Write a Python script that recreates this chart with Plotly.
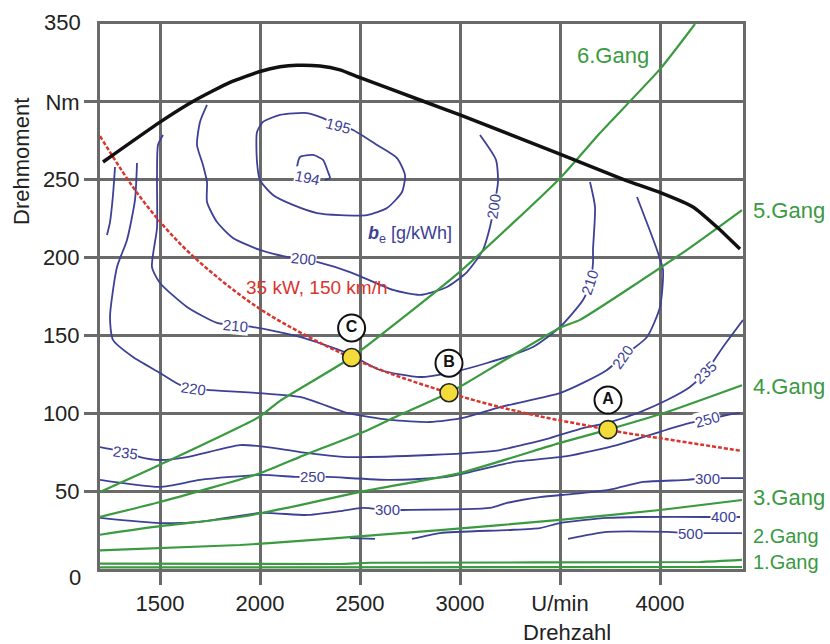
import plotly.graph_objects as go

# ---- engine speed axis / torque axis ticks ----
x_ticks = [1500, 2000, 2500, 3000, 3500, 4000]
x_ticktext = ["1500", "2000", "2500", "3000", "U/min", "4000"]
y_ticks = [50, 100, 150, 200, 250, 300]
y_ticktext = ["50", "100", "150", "200", "250", "Nm"]

# ---- full-load torque curve ----
full_rpm = [1215, 1500, 1675, 1850, 2000, 2100, 2185, 2300, 2400, 2500, 2800, 3000, 3500, 3825, 4005, 4165, 4290, 4400]
full_nm = [261.4, 287.0, 301.0, 312.5, 319.5, 322.5, 323.5, 323.0, 320.5, 315.5, 301.2, 291.6, 266.5, 249.8, 241.5, 232.5, 219.0, 205.5]

# ---- constant power line 35 kW (150 km/h) ----
power_rpm = [1200, 1400, 1600, 1800, 2000, 2200, 2400, 2600, 2800, 3000, 3200, 3400, 3600, 3800, 4000, 4200, 4400]
power_nm = [278, 239, 209, 186, 167, 152, 139, 128, 119, 111, 104, 98, 93, 88, 84, 80, 76]

# ---- operating points on the power line ----
point_names = ["C", "B", "A"]
point_rpm = [2458, 2945, 3740]
point_nm = [135.8, 113.2, 89.5]

# ---- road-load lines per gear ----
gear6_rpm = [1200, 1500, 2000, 2100, 2458, 3000, 3500, 3700, 4000, 4175]
gear6_nm = [49.5, 67, 98, 108, 136, 191, 251, 280, 321, 350]
gear5_rpm = [1200, 1500, 2000, 2200, 2535, 2650, 2945, 3000, 3500, 3600, 4135, 4410]
gear5_nm = [33.5, 43, 61.5, 72, 89, 96, 113.2, 117, 155, 160, 205, 230.5]
gear4_rpm = [1200, 1500, 1900, 2200, 2500, 3000, 3500, 3740, 4035, 4410]
gear4_nm = [22, 27.5, 33.4, 41, 49.5, 61.6, 81, 89.5, 100.8, 118]
gear3_rpm = [1200, 1900, 2200, 2400, 2900, 3500, 4000, 4410]
gear3_nm = [12, 15.4, 18, 20, 25, 31.5, 37.9, 44.3]
gear2_rpm = [1200, 2400, 2550, 4200, 4410]
gear2_nm = [3.5, 3.2, 4.0, 4.5, 5.8]
gear1_rpm = [1200, 4410]
gear1_nm = [1.0, 1.3]

# ---- specific fuel consumption b_e [g/kWh] iso-lines ----
be194_rpm = [2185, 2200, 2265, 2315, 2340, 2350, 2325]
be194_nm = [258.2, 264.6, 265.9, 262.7, 255.0, 251.1, 249.8]
be195_rpm = [2000, 1985, 1985, 2015, 2100, 2235, 2315, 2390, 2465, 2585, 2685, 2725, 2710, 2635, 2535, 2400, 2285, 2165, 2065, 2000]
be195_nm = [249.8, 261.4, 280.6, 287.1, 291.6, 292.8, 289.6, 285.1, 281.9, 272.3, 263.9, 253.0, 242.1, 231.8, 227.3, 227.3, 228.6, 233.8, 240.2, 249.8]
be200_rpm = [1735, 1700, 1685, 1715, 1735, 1735, 1785, 1865, 2000, 2135, 2215, 2285, 2450, 2665, 2800, 2935, 3035, 3115, 3150, 3170, 3190, 3180, 3100]
be200_nm = [298.0, 287.1, 272.3, 259.4, 248.5, 235.7, 222.8, 212.6, 204.9, 200.4, 199.1, 197.2, 190.7, 179.2, 176.0, 181.1, 190.7, 204.9, 219.6, 232.5, 248.5, 262.7, 278.7]
be210_rpm = [1515, 1490, 1485, 1485, 1460, 1500, 1635, 1785, 1875, 1965, 2200, 2435, 2600, 2800, 2965, 3135, 3365, 3500, 3615, 3650, 3665, 3665, 3675, 3650]
be210_nm = [278.7, 272.3, 251.1, 219.0, 193.9, 183.7, 168.3, 158.0, 156.7, 155.4, 149.0, 138.7, 127.8, 123.3, 126.5, 132.3, 142.6, 155.4, 172.8, 183.7, 196.5, 204.9, 232.5, 248.5]
be220_rpm = [1385, 1375, 1335, 1285, 1250, 1265, 1365, 1500, 1600, 1665, 1735, 2200, 2435, 2650, 2850, 3015, 3200, 3500, 3615, 3735, 3810, 3935, 4000, 4015, 3985, 3885]
be220_nm = [260.7, 237.0, 211.3, 193.9, 161.8, 147.1, 136.1, 125.9, 118.2, 116.2, 115.0, 110.5, 100.2, 95.7, 94.4, 97.0, 104.0, 113.0, 119.5, 127.8, 136.1, 149.0, 168.3, 192.0, 204.9, 238.9]
be235_rpm = [1275, 1265, 1250, 1235, None,
             1200, 1325, 1400, 1500, 1635, 1900, 2035, 2200, 2435, 2850, 3100, 3200, 3450, 3615, 3750, 3900, 4035, 4150, 4225, 4315, 4415]
be235_nm = [258.2, 240.2, 222.8, 214.5, None,
            78.3, 75.1, 71.9, 70.0, 71.9, 79.6, 78.3, 75.1, 71.9, 73.2, 75.1, 76.4, 84.1, 90.5, 94.4, 100.8, 108.5, 116.9, 125.9, 142.6, 159.9]
be250_rpm = [1200, 1500, 1700, 2000, 2185, 2260, 2335, 2650, 2935, 3200, 3265, 3535, 3785, 3950, 4150, 4235, 4335, 4400]
be250_nm = [57.2, 52.7, 57.2, 60.4, 59.1, 59.1, 59.1, 57.2, 59.1, 66.8, 68.7, 72.5, 79.6, 86.1, 93.8, 95.7, 98.9, 100.2]
be300_rpm = [1200, 1500, 1700, 2000, 2235, 2400, 2515, 2635, 2715, 3150, 3235, 3400, 3565, 3735, 3785, 3915, 4135, 4235, 4315, 4415]
be300_nm = [32.8, 29.5, 30.2, 36.0, 34.7, 37.2, 39.2, 37.9, 37.9, 39.2, 42.4, 46.2, 48.2, 50.7, 52.0, 55.9, 57.2, 58.4, 58.4, 58.4]
be400_rpm = [2450, 2575, None, 2760, 2900, 3235, 3400, 3500, 3735, 3900, 4235, 4315, 4400]
be400_nm = [19.9, 19.3, None, 19.3, 23.1, 25.0, 26.3, 29.5, 32.8, 33.4, 33.4, 33.4, 33.4]
be500_rpm = [3540, 3735, 4035, 4150, 4235, 4410]
be500_nm = [19.3, 23.8, 23.8, 23.1, 23.1, 23.1]

BLUE = "#3d4196"
GREEN = "#3a9a3f"
RED = "#d9352e"
GRID = "#6a6a6a"
INK = "#222222"
FONT = "Liberation Sans, Arial, sans-serif"

fig = go.Figure()

# iso-consumption lines
for rpm, nm in [(be194_rpm, be194_nm), (be195_rpm, be195_nm), (be200_rpm, be200_nm),
                (be210_rpm, be210_nm), (be220_rpm, be220_nm), (be235_rpm, be235_nm),
                (be250_rpm, be250_nm), (be300_rpm, be300_nm), (be400_rpm, be400_nm),
                (be500_rpm, be500_nm)]:
    fig.add_trace(go.Scatter(x=rpm, y=nm, mode="lines", connectgaps=False,
                             line=dict(color=BLUE, width=1.8, shape="spline", smoothing=0.6),
                             hoverinfo="skip"))

# gear lines
for rpm, nm in [(gear1_rpm, gear1_nm), (gear2_rpm, gear2_nm), (gear3_rpm, gear3_nm),
                (gear4_rpm, gear4_nm), (gear5_rpm, gear5_nm), (gear6_rpm, gear6_nm)]:
    fig.add_trace(go.Scatter(x=rpm, y=nm, mode="lines",
                             line=dict(color=GREEN, width=2.2, shape="spline", smoothing=0.5),
                             hoverinfo="skip"))

# constant power line
fig.add_trace(go.Scatter(x=power_rpm, y=power_nm, mode="lines",
                         line=dict(color=RED, width=2.5, dash="4px,2px", shape="spline"),
                         hoverinfo="skip"))

# full-load curve
fig.add_trace(go.Scatter(x=full_rpm, y=full_nm, mode="lines",
                         line=dict(color="#111111", width=3.5, shape="spline", smoothing=0.5),
                         hoverinfo="skip"))

# operating points
fig.add_trace(go.Scatter(x=point_rpm, y=point_nm, mode="markers",
                         marker=dict(size=18, color="#f3dc3a", line=dict(color=INK, width=1.6)),
                         hoverinfo="skip"))
# letter tags above the points
tag_offset = 19
fig.add_trace(go.Scatter(x=point_rpm, y=[v + tag_offset for v in point_nm], mode="markers+text",
                         text=["<b>%s</b>" % n for n in point_names], textposition="middle center",
                         textfont=dict(family=FONT, size=16, color="#111111"),
                         marker=dict(size=27, color="white", line=dict(color="#111111", width=2)),
                         hoverinfo="skip"))

annotations = []

# contour value labels (text, rpm, Nm, angle)
contour_labels = [
    ("194", 2235, 251.7, 12), ("195", 2390, 285.1, 15),
    ("200", 2215, 199.1, 5), ("200", 3170, 232.5, -82),
    ("210", 1875, 156.7, 5), ("210", 3650, 183.7, -72),
    ("220", 1665, 116.2, 8), ("220", 3810, 136.1, -55),
    ("235", 1325, 75.1, 8), ("235", 4225, 125.9, -45),
    ("250", 2260, 59.1, 0), ("250", 4235, 95.7, -15),
    ("300", 2635, 37.9, 0), ("300", 4235, 58.4, 0),
    ("400", 4315, 33.4, 0), ("500", 4150, 23.1, 0),
]
for txt, rx, ry, ang in contour_labels:
    annotations.append(dict(x=rx, y=ry, xref="x", yref="y", text=txt, showarrow=False,
                            textangle=ang, bgcolor="white", borderpad=0,
                            font=dict(family=FONT, size=15, color=BLUE)))

annotations.append(dict(x=2750, y=214.5, xref="x", yref="y", showarrow=False,
                        text="<b><i>b</i></b><sub>e</sub> [g/kWh]",
                        font=dict(family=FONT, size=18, color=BLUE)))
annotations.append(dict(x=2287, y=181, xref="x", yref="y", showarrow=False,
                        text="35 kW, 150 km/h",
                        font=dict(family=FONT, size=19, color=RED)))

# gear names
annotations.append(dict(x=3765, y=330, xref="x", yref="y", showarrow=False, text="6.Gang",
                        font=dict(family=FONT, size=22, color=GREEN)))
for txt, yv in [("5.Gang", 230.5), ("4.Gang", 117), ("3.Gang", 46)]:
    annotations.append(dict(x=1, y=yv, xref="paper", yref="y", xanchor="left", xshift=8,
                            showarrow=False, text=txt,
                            font=dict(family=FONT, size=22, color=GREEN)))
annotations.append(dict(x=1, y=12.8, xref="paper", yref="y", xanchor="left", yanchor="middle",
                        xshift=8, showarrow=False, text="2.Gang<br>1.Gang", align="left",
                        font=dict(family=FONT, size=20, color=GREEN)))

# end labels of the torque axis
for txt, yv, sh in [("0", 0, -8), ("350", 350, 2)]:
    annotations.append(dict(x=0, y=yv, xref="paper", yref="y", xanchor="right", xshift=-17,
                            yshift=sh, showarrow=False, text=txt,
                            font=dict(family=FONT, size=22, color=INK)))

# axis titles
annotations.append(dict(x=-0.1213, y=0.747, xref="paper", yref="paper", showarrow=False,
                        xanchor="center", yanchor="middle",
                        text="Drehmoment", textangle=-90,
                        font=dict(family=FONT, size=22, color=INK)))
annotations.append(dict(x=0.727, y=-0.1156, xref="paper", yref="paper", showarrow=False,
                        xanchor="center", yanchor="middle",
                        text="Drehzahl",
                        font=dict(family=FONT, size=22, color=INK)))

fig.update_layout(
    width=830, height=644,
    margin=dict(l=100, r=87, t=24, b=75),
    paper_bgcolor="white", plot_bgcolor="white",
    showlegend=False,
    annotations=annotations,
    font=dict(family=FONT, size=22, color=INK),
)
fig.update_xaxes(range=[1200, 4415], tickvals=x_ticks, ticktext=x_ticktext,
                 showgrid=True, gridcolor=GRID, gridwidth=2.5,
                 ticks="outside", ticklen=13, tickwidth=2.5, tickcolor=GRID,
                 showline=True, mirror=True, linecolor=GRID, linewidth=3,
                 zeroline=False, tickfont=dict(size=22, color=INK))
fig.update_yaxes(range=[0, 350], tickvals=y_ticks, ticktext=y_ticktext,
                 showgrid=True, gridcolor=GRID, gridwidth=2.5,
                 ticks="outside", ticklen=13, tickwidth=2.5, tickcolor=GRID,
                 showline=True, mirror=True, linecolor=GRID, linewidth=3,
                 zeroline=False, tickfont=dict(size=22, color=INK))

fig.write_html("out.html")
